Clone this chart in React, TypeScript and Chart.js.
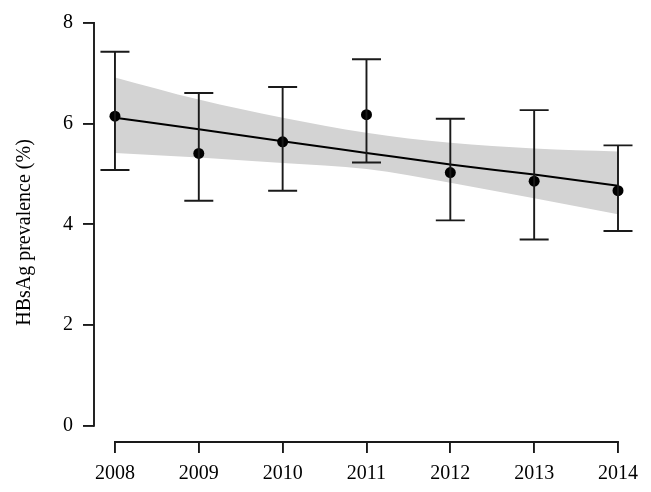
import React, { useEffect, useRef } from 'react';
import { Chart, registerables } from 'chart.js';
Chart.register(...registerables);

const years = [2008, 2009, 2010, 2011, 2012, 2013, 2014];
const prevalence = [6.15, 5.41, 5.64, 6.18, 5.03, 4.86, 4.67];
const ciLower = [5.08, 4.47, 4.67, 5.23, 4.08, 3.7, 3.87];
const ciUpper = [7.43, 6.61, 6.73, 7.28, 6.1, 6.27, 5.57];
const trend = [6.12, 5.89, 5.65, 5.42, 5.19, 4.99, 4.77];
const bandUpper = [6.92, 6.48, 6.12, 5.82, 5.62, 5.51, 5.45];
const bandLower = [5.42, 5.33, 5.22, 5.1, 4.83, 4.52, 4.2];
const yTicks = [0, 2, 4, 6, 8];
const yLabel = 'HBsAg prevalence (%)';

const FONT = 'Liberation Serif';
const INK = '#1a1a1a';
const LW = 1.9;

const toXY = (vals: number[]) => years.map((yr, i) => ({ x: yr, y: vals[i] }));

const rAxesPlugin = {
  id: 'rAxes',
  afterDatasetsDraw(chart: any) {
    const ctx = chart.ctx;
    const xs = chart.scales.x;
    const ys = chart.scales.y;
    ctx.save();
    ctx.strokeStyle = INK;
    ctx.lineWidth = LW;
    years.forEach((yr, i) => {
      const px = xs.getPixelForValue(yr);
      const top = ys.getPixelForValue(ciUpper[i]);
      const bot = ys.getPixelForValue(ciLower[i]);
      ctx.beginPath();
      ctx.moveTo(px, top);
      ctx.lineTo(px, bot);
      ctx.moveTo(px - 14.5, top);
      ctx.lineTo(px + 14.5, top);
      ctx.moveTo(px - 14.5, bot);
      ctx.lineTo(px + 14.5, bot);
      ctx.stroke();
    });
    const left = chart.chartArea.left;
    const bottom = chart.chartArea.bottom;
    ctx.beginPath();
    ctx.moveTo(left, ys.getPixelForValue(yTicks[0]) + LW / 2);
    ctx.lineTo(left, ys.getPixelForValue(yTicks[yTicks.length - 1]) - LW / 2);
    ctx.moveTo(xs.getPixelForValue(years[0]) - LW / 2, bottom);
    ctx.lineTo(xs.getPixelForValue(years[years.length - 1]) + LW / 2, bottom);
    ctx.stroke();
    ctx.restore();
  },
};

export default function App() {
  const ref = useRef<HTMLCanvasElement | null>(null);
  useEffect(() => {
    document.body.style.margin = '0';
    const canvas = ref.current;
    if (!canvas) return;
    const chart = new Chart(canvas, {
      type: 'scatter',
      data: {
        datasets: [
          {
            data: toXY(prevalence),
            backgroundColor: '#000',
            borderColor: '#000',
            pointRadius: 5.5,
            borderWidth: 0,
            showLine: false,
            clip: false,
          },
          {
            data: toXY(trend),
            borderColor: '#000',
            borderWidth: 2,
            pointRadius: 0,
            showLine: true,
            cubicInterpolationMode: 'monotone',
            clip: false,
          },
          {
            data: toXY(bandUpper),
            borderWidth: 0,
            borderColor: 'rgba(0,0,0,0)',
            backgroundColor: '#d3d3d3',
            pointRadius: 0,
            showLine: true,
            fill: '+1',
            cubicInterpolationMode: 'monotone',
          },
          {
            data: toXY(bandLower),
            borderWidth: 0,
            borderColor: 'rgba(0,0,0,0)',
            backgroundColor: '#d3d3d3',
            pointRadius: 0,
            showLine: true,
            fill: false,
            cubicInterpolationMode: 'monotone',
          },
        ],
      } as any,
      options: {
        animation: false,
        responsive: false,
        events: [],
        layout: { padding: { left: 0, top: 23, right: 33, bottom: 0 } },
        plugins: { legend: { display: false }, tooltip: { enabled: false } },
        scales: {
          x: {
            type: 'linear',
            min: 2007.75,
            max: 2014,
            afterBuildTicks: (s: any) => {
              s.ticks = years.map((v) => ({ value: v }));
            },
            afterFit: (s: any) => {
              s.height = 50;
            },
            ticks: {
              callback: (v: any) => String(v),
              font: { family: FONT, size: 20 },
              color: '#000',
              padding: 9,
              maxRotation: 0,
              autoSkip: false,
            },
            grid: { drawOnChartArea: false, drawTicks: true, tickLength: 11, color: INK, lineWidth: LW },
            border: { display: false },
          },
          y: {
            type: 'linear',
            min: -0.32,
            max: 8,
            afterBuildTicks: (s: any) => {
              s.ticks = yTicks.map((v) => ({ value: v }));
            },
            afterFit: (s: any) => {
              s.width = 94;
            },
            ticks: {
              callback: (v: any) => String(v),
              font: { family: FONT, size: 20 },
              color: '#000',
              padding: 10,
            },
            grid: { drawOnChartArea: false, drawTicks: true, tickLength: 11, color: INK, lineWidth: LW },
            border: { display: false },
            title: {
              display: true,
              text: yLabel,
              font: { family: FONT, size: 20 },
              color: '#000',
              padding: { top: 13, bottom: 0 },
            },
          },
        },
      } as any,
      plugins: [rAxesPlugin],
    });
    return () => chart.destroy();
  }, []);
  return (
    <div style={{ width: 651, height: 492 }}>
      <canvas ref={ref} width={651} height={492} />
    </div>
  );
}
